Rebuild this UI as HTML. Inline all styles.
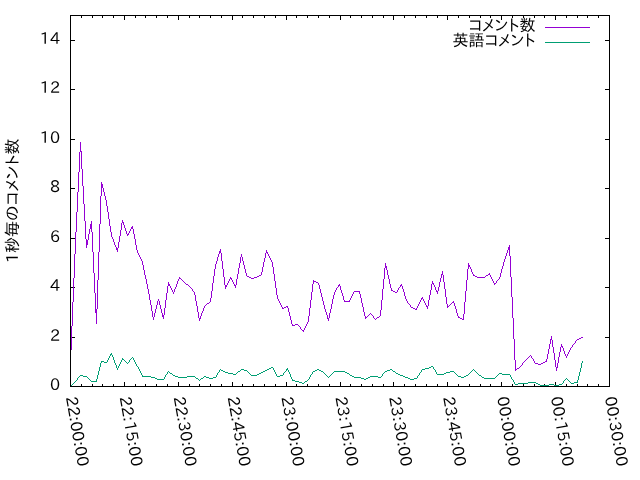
<!DOCTYPE html>
<html lang="ja">
<head>
<meta charset="utf-8">
<title>1秒毎のコメント数</title>
<style>
html,body{margin:0;padding:0;background:#fff;}
body{width:640px;height:480px;overflow:hidden;}
svg{display:block;}
.g{shape-rendering:crispEdges;}
text{fill:#000;}
.n{font-family:"IPAPGothic","Liberation Sans",sans-serif;font-size:16px;}
.j{font-family:"IPAPGothic","Liberation Sans","IPAGothic","Noto Sans CJK JP",sans-serif;font-size:16px;}
</style>
</head>
<body>
<svg width="640" height="480" viewBox="0 0 640 480">
<rect width="640" height="480" fill="#fff"/>
<g class="g">
<path d="M70.5 386.5h4.5M609.5 386.5h-4.5M70.5 337.5h4.5M609.5 337.5h-4.5M70.5 287.5h4.5M609.5 287.5h-4.5M70.5 238.5h4.5M609.5 238.5h-4.5M70.5 188.5h4.5M609.5 188.5h-4.5M70.5 139.5h4.5M609.5 139.5h-4.5M70.5 89.5h4.5M609.5 89.5h-4.5M70.5 40.5h4.5M609.5 40.5h-4.5M70.5 386.5v-4.5M70.5 15.5v4.5M81.5 386.5v-2.5M81.5 15.5v2.5M92.5 386.5v-2.5M92.5 15.5v2.5M102.5 386.5v-2.5M102.5 15.5v2.5M113.5 386.5v-2.5M113.5 15.5v2.5M124.5 386.5v-4.5M124.5 15.5v4.5M135.5 386.5v-2.5M135.5 15.5v2.5M145.5 386.5v-2.5M145.5 15.5v2.5M156.5 386.5v-2.5M156.5 15.5v2.5M167.5 386.5v-2.5M167.5 15.5v2.5M178.5 386.5v-4.5M178.5 15.5v4.5M189.5 386.5v-2.5M189.5 15.5v2.5M199.5 386.5v-2.5M199.5 15.5v2.5M210.5 386.5v-2.5M210.5 15.5v2.5M221.5 386.5v-2.5M221.5 15.5v2.5M232.5 386.5v-4.5M232.5 15.5v4.5M242.5 386.5v-2.5M242.5 15.5v2.5M253.5 386.5v-2.5M253.5 15.5v2.5M264.5 386.5v-2.5M264.5 15.5v2.5M275.5 386.5v-2.5M275.5 15.5v2.5M286.5 386.5v-4.5M286.5 15.5v4.5M296.5 386.5v-2.5M296.5 15.5v2.5M307.5 386.5v-2.5M307.5 15.5v2.5M318.5 386.5v-2.5M318.5 15.5v2.5M329.5 386.5v-2.5M329.5 15.5v2.5M340.5 386.5v-4.5M340.5 15.5v4.5M350.5 386.5v-2.5M350.5 15.5v2.5M361.5 386.5v-2.5M361.5 15.5v2.5M372.5 386.5v-2.5M372.5 15.5v2.5M383.5 386.5v-2.5M383.5 15.5v2.5M393.5 386.5v-4.5M393.5 15.5v4.5M404.5 386.5v-2.5M404.5 15.5v2.5M415.5 386.5v-2.5M415.5 15.5v2.5M426.5 386.5v-2.5M426.5 15.5v2.5M437.5 386.5v-2.5M437.5 15.5v2.5M447.5 386.5v-4.5M447.5 15.5v4.5M458.5 386.5v-2.5M458.5 15.5v2.5M469.5 386.5v-2.5M469.5 15.5v2.5M480.5 386.5v-2.5M480.5 15.5v2.5M490.5 386.5v-2.5M490.5 15.5v2.5M501.5 386.5v-4.5M501.5 15.5v4.5M512.5 386.5v-2.5M512.5 15.5v2.5M523.5 386.5v-2.5M523.5 15.5v2.5M534.5 386.5v-2.5M534.5 15.5v2.5M544.5 386.5v-2.5M544.5 15.5v2.5M555.5 386.5v-4.5M555.5 15.5v4.5M566.5 386.5v-2.5M566.5 15.5v2.5M577.5 386.5v-2.5M577.5 15.5v2.5M587.5 386.5v-2.5M587.5 15.5v2.5M598.5 386.5v-2.5M598.5 15.5v2.5M609.5 386.5v-4.5M609.5 15.5v4.5" stroke="#000" stroke-width="1" fill="none"/>
<path d="M75.98438 242.5L70.98438 362.5H69.98438L74.98438 242.5ZM80.98438 142.5L75.98438 242.5H74.98438L79.98438 142.5ZM81.01562 142.5L87.01562 247.5H86.01562L80.01562 142.5ZM91.98438 221.5L86.98438 247.5H85.98438L90.98438 221.5ZM92.01562 221.5L97.01562 323.5H96.01562L91.01562 221.5ZM101.98438 182.5L96.98438 323.5H95.98438L100.98438 182.5ZM102.01562 182.5L107.01562 202.5H106.01562L101.01562 182.5ZM107.01562 202.5L112.01562 235.5H111.01562L106.01562 202.5ZM112.01562 235.5L118.01562 251.5H117.01562L111.01562 235.5ZM122.98438 220.5L117.98438 251.5H116.98438L121.98438 220.5ZM123.01562 220.5L128.01562 235.5H127.01562L122.01562 220.5ZM132.98438 226.5L127.98438 235.5H126.98438L131.98438 226.5ZM133.01562 226.5L138.01562 252.5H137.01562L132.01562 226.5ZM138.01562 252.5L143.01562 262.5H142.01562L137.01562 252.5ZM143.01562 262.5L149.01562 291.5H148.01562L142.01562 262.5ZM149.01562 291.5L154.01562 319.5H153.01562L148.01562 291.5ZM158.98438 299.5L153.98438 319.5H152.98438L157.98438 299.5ZM159.01562 299.5L164.01562 318.5H163.01562L158.01562 299.5ZM168.98438 282.5L163.98438 318.5H162.98438L167.98438 282.5ZM169.01562 282.5L174.01562 293.5H173.01562L168.01562 282.5ZM179.98438 277.5L173.98438 293.5H172.98438L178.98438 277.5ZM179.5 277.01562L184.5 282.01562V283.01562L179.5 278.01562ZM184.5 282.01562L189.5 286.01562V287.01562L184.5 283.01562ZM190.01562 286.5L195.01562 292.5H194.01562L189.01562 286.5ZM195.01562 292.5L200.01562 320.5H199.01562L194.01562 292.5ZM204.98438 306.5L199.98438 320.5H198.98438L203.98438 306.5ZM204.5 305.98438L210.5 300.98438V301.98438L204.5 306.98438ZM215.98438 265.5L210.98438 301.5H209.98438L214.98438 265.5ZM220.98438 249.5L215.98438 265.5H214.98438L219.98438 249.5ZM221.01562 249.5L226.01562 288.5H225.01562L220.01562 249.5ZM230.98438 277.5L225.98438 288.5H224.98438L229.98438 277.5ZM231.01562 277.5L236.01562 287.5H235.01562L230.01562 277.5ZM241.98438 254.5L235.98438 287.5H234.98438L240.98438 254.5ZM242.01562 254.5L247.01562 275.5H246.01562L241.01562 254.5ZM246.5 275.01562L251.5 278.01562V279.01562L246.5 276.01562ZM251.5 277.98438L256.5 276.98438V277.98438L251.5 278.98438ZM256.5 276.98438L261.5 273.98438V274.98438L256.5 277.98438ZM266.98438 250.5L261.98438 274.5H260.98438L265.98438 250.5ZM267.01562 250.5L273.01562 263.5H272.01562L266.01562 250.5ZM273.01562 263.5L278.01562 298.5H277.01562L272.01562 263.5ZM278.01562 298.5L283.01562 308.5H282.01562L277.01562 298.5ZM282.5 307.98438L287.5 305.98438V306.98438L282.5 308.98438ZM288.01562 306.5L293.01562 325.5H292.01562L287.01562 306.5ZM292.5 324.98438L297.5 323.98438V324.98438L292.5 325.98438ZM298.01562 324.5L304.01562 331.5H303.01562L297.01562 324.5ZM308.98438 320.5L303.98438 331.5H302.98438L307.98438 320.5ZM313.98438 280.5L308.98438 320.5H307.98438L312.98438 280.5ZM313.5 280.01562L318.5 283.01562V284.01562L313.5 281.01562ZM319.01562 283.5L324.01562 303.5H323.01562L318.01562 283.5ZM324.01562 303.5L329.01562 320.5H328.01562L323.01562 303.5ZM334.98438 292.5L328.98438 320.5H327.98438L333.98438 292.5ZM339.98438 284.5L334.98438 292.5H333.98438L338.98438 284.5ZM340.01562 284.5L345.01562 301.5H344.01562L339.01562 284.5ZM344.5 301L349.5 301V302L344.5 302ZM354.98438 291.5L349.98438 301.5H348.98438L353.98438 291.5ZM354.5 291L359.5 291V292L354.5 292ZM360.01562 291.5L366.01562 318.5H365.01562L359.01562 291.5ZM365.5 317.98438L370.5 312.98438V313.98438L365.5 318.98438ZM371.01562 313.5L376.01562 319.5H375.01562L370.01562 313.5ZM375.5 318.98438L380.5 314.98438V315.98438L375.5 319.98438ZM385.98438 263.5L380.98438 315.5H379.98438L384.98438 263.5ZM386.01562 263.5L392.01562 290.5H391.01562L385.01562 263.5ZM391.5 290.01562L396.5 292.01562V293.01562L391.5 291.01562ZM401.98438 284.5L396.98438 292.5H395.98438L400.98438 284.5ZM402.01562 284.5L407.01562 300.5H406.01562L401.01562 284.5ZM407.01562 300.5L412.01562 307.5H411.01562L406.01562 300.5ZM411.5 307.01562L416.5 309.01562V310.01562L411.5 308.01562ZM422.98438 297.5L416.98438 309.5H415.98438L421.98438 297.5ZM423.01562 297.5L428.01562 308.5H427.01562L422.01562 297.5ZM432.98438 281.5L427.98438 308.5H426.98438L431.98438 281.5ZM433.01562 281.5L438.01562 293.5H437.01562L432.01562 281.5ZM442.98438 271.5L437.98438 293.5H436.98438L441.98438 271.5ZM443.01562 271.5L448.01562 307.5H447.01562L442.01562 271.5ZM447.5 306.98438L453.5 300.98438V301.98438L447.5 307.98438ZM454.01562 301.5L459.01562 317.5H458.01562L453.01562 301.5ZM458.5 317.01562L463.5 319.01562V320.01562L458.5 318.01562ZM468.98438 263.5L463.98438 319.5H462.98438L467.98438 263.5ZM469.01562 263.5L474.01562 275.5H473.01562L468.01562 263.5ZM473.5 275.01562L478.5 277.01562V278.01562L473.5 276.01562ZM478.5 277L484.5 277V278L478.5 278ZM484.5 276.98438L489.5 272.98438V273.98438L484.5 277.98438ZM490.01562 273.5L495.01562 284.5H494.01562L489.01562 273.5ZM499.98438 278.5L494.98438 284.5H493.98438L498.98438 278.5ZM504.98438 260.5L499.98438 278.5H498.98438L503.98438 260.5ZM509.98438 245.5L504.98438 260.5H503.98438L508.98438 245.5ZM510.01562 245.5L516.01562 370.5H515.01562L509.01562 245.5ZM515.5 369.98438L520.5 365.98438V366.98438L515.5 370.98438ZM525.98438 360.5L520.98438 366.5H519.98438L524.98438 360.5ZM525.5 359.98438L530.5 354.98438V355.98438L525.5 360.98438ZM531.01562 355.5L536.01562 363.5H535.01562L530.01562 355.5ZM535.5 363.01562L540.5 364.01562V365.01562L535.5 364.01562ZM540.5 363.98438L546.5 360.98438V361.98438L540.5 364.98438ZM551.98438 336.5L546.98438 361.5H545.98438L550.98438 336.5ZM552.01562 336.5L557.01562 370.5H556.01562L551.01562 336.5ZM561.98438 344.5L556.98438 370.5H555.98438L560.98438 344.5ZM562.01562 344.5L567.01562 357.5H566.01562L561.01562 344.5ZM571.98438 347.5L566.98438 357.5H565.98438L570.98438 347.5ZM577.98438 339.5L571.98438 347.5H570.98438L576.98438 339.5ZM577.5 338.98438L582.5 336.98438V337.98438L577.5 339.98438ZM70 362h1v1h-1ZM75 242h1v1h-1ZM80 142h1v1h-1ZM86 247h1v1h-1ZM91 221h1v1h-1ZM96 323h1v1h-1ZM101 182h1v1h-1ZM106 202h1v1h-1ZM111 235h1v1h-1ZM117 251h1v1h-1ZM122 220h1v1h-1ZM127 235h1v1h-1ZM132 226h1v1h-1ZM137 252h1v1h-1ZM142 262h1v1h-1ZM148 291h1v1h-1ZM153 319h1v1h-1ZM158 299h1v1h-1ZM163 318h1v1h-1ZM168 282h1v1h-1ZM173 293h1v1h-1ZM179 277h1v1h-1ZM184 282h1v1h-1ZM189 286h1v1h-1ZM194 292h1v1h-1ZM199 320h1v1h-1ZM204 306h1v1h-1ZM210 301h1v1h-1ZM215 265h1v1h-1ZM220 249h1v1h-1ZM225 288h1v1h-1ZM230 277h1v1h-1ZM235 287h1v1h-1ZM241 254h1v1h-1ZM246 275h1v1h-1ZM251 278h1v1h-1ZM256 277h1v1h-1ZM261 274h1v1h-1ZM266 250h1v1h-1ZM272 263h1v1h-1ZM277 298h1v1h-1ZM282 308h1v1h-1ZM287 306h1v1h-1ZM292 325h1v1h-1ZM297 324h1v1h-1ZM303 331h1v1h-1ZM308 320h1v1h-1ZM313 280h1v1h-1ZM318 283h1v1h-1ZM323 303h1v1h-1ZM328 320h1v1h-1ZM334 292h1v1h-1ZM339 284h1v1h-1ZM344 301h1v1h-1ZM349 301h1v1h-1ZM354 291h1v1h-1ZM359 291h1v1h-1ZM365 318h1v1h-1ZM370 313h1v1h-1ZM375 319h1v1h-1ZM380 315h1v1h-1ZM385 263h1v1h-1ZM391 290h1v1h-1ZM396 292h1v1h-1ZM401 284h1v1h-1ZM406 300h1v1h-1ZM411 307h1v1h-1ZM416 309h1v1h-1ZM422 297h1v1h-1ZM427 308h1v1h-1ZM432 281h1v1h-1ZM437 293h1v1h-1ZM442 271h1v1h-1ZM447 307h1v1h-1ZM453 301h1v1h-1ZM458 317h1v1h-1ZM463 319h1v1h-1ZM468 263h1v1h-1ZM473 275h1v1h-1ZM478 277h1v1h-1ZM484 277h1v1h-1ZM489 273h1v1h-1ZM494 284h1v1h-1ZM499 278h1v1h-1ZM504 260h1v1h-1ZM509 245h1v1h-1ZM515 370h1v1h-1ZM520 366h1v1h-1ZM525 360h1v1h-1ZM530 355h1v1h-1ZM535 363h1v1h-1ZM540 364h1v1h-1ZM546 361h1v1h-1ZM551 336h1v1h-1ZM556 370h1v1h-1ZM561 344h1v1h-1ZM566 357h1v1h-1ZM571 347h1v1h-1ZM577 339h1v1h-1ZM582 337h1v1h-1Z" fill="#9400d3" stroke="none"/>
<path d="M545 27.5H590" stroke="#9400d3" stroke-width="1" fill="none"/>
<path d="M70.5 385.98438L75.5 380.98438V381.98438L70.5 386.98438ZM80.98438 375.5L75.98438 381.5H74.98438L79.98438 375.5ZM80.5 375.01562L86.5 376.01562V377.01562L80.5 376.01562ZM86.5 376.01562L91.5 381.01562V382.01562L86.5 377.01562ZM91.5 381L96.5 381V382L91.5 382ZM101.98438 361.5L96.98438 381.5H95.98438L100.98438 361.5ZM101.5 361.01562L106.5 362.01562V363.01562L101.5 362.01562ZM111.98438 353.5L106.98438 362.5H105.98438L110.98438 353.5ZM112.01562 353.5L118.01562 369.5H117.01562L111.01562 353.5ZM122.98438 358.5L117.98438 369.5H116.98438L121.98438 358.5ZM122.5 358.01562L127.5 363.01562V364.01562L122.5 359.01562ZM132.98438 357.5L127.98438 363.5H126.98438L131.98438 357.5ZM133.01562 357.5L138.01562 366.5H137.01562L132.01562 357.5ZM138.01562 366.5L143.01562 376.5H142.01562L137.01562 366.5ZM142.5 376L148.5 376V377L142.5 377ZM148.5 376.01562L153.5 377.01562V378.01562L148.5 377.01562ZM153.5 377.01562L158.5 379.01562V380.01562L153.5 378.01562ZM158.5 379L163.5 379V380L158.5 380ZM168.98438 371.5L163.98438 379.5H162.98438L167.98438 371.5ZM168.5 371.01562L173.5 375.01562V376.01562L168.5 372.01562ZM173.5 375.01562L179.5 377.01562V378.01562L173.5 376.01562ZM179.5 377L184.5 377V378L179.5 378ZM184.5 376.98438L189.5 375.98438V376.98438L184.5 377.98438ZM189.5 376L194.5 376V377L189.5 377ZM194.5 376.01562L199.5 380.01562V381.01562L194.5 377.01562ZM199.5 379.98438L204.5 375.98438V376.98438L199.5 380.98438ZM204.5 376.01562L210.5 378.01562V379.01562L204.5 377.01562ZM210.5 377.98438L215.5 376.98438V377.98438L210.5 378.98438ZM220.98438 369.5L215.98438 377.5H214.98438L219.98438 369.5ZM220.5 369.01562L225.5 372.01562V373.01562L220.5 370.01562ZM225.5 372.01562L230.5 373.01562V374.01562L225.5 373.01562ZM230.5 373.01562L235.5 374.01562V375.01562L230.5 374.01562ZM235.5 373.98438L241.5 368.98438V369.98438L235.5 374.98438ZM241.5 369.01562L246.5 370.01562V371.01562L241.5 370.01562ZM246.5 370.01562L251.5 375.01562V376.01562L246.5 371.01562ZM251.5 375L256.5 375V376L251.5 376ZM256.5 374.98438L261.5 371.98438V372.98438L256.5 375.98438ZM261.5 371.98438L266.5 369.98438V370.98438L261.5 372.98438ZM266.5 369.98438L272.5 366.98438V367.98438L266.5 370.98438ZM273.01562 367.5L278.01562 376.5H277.01562L272.01562 367.5ZM277.5 375.98438L282.5 374.98438V375.98438L277.5 376.98438ZM287.98438 368.5L282.98438 375.5H281.98438L286.98438 368.5ZM288.01562 368.5L293.01562 380.5H292.01562L287.01562 368.5ZM292.5 380.01562L297.5 381.01562V382.01562L292.5 381.01562ZM297.5 381.01562L303.5 383.01562V384.01562L297.5 382.01562ZM303.5 382.98438L308.5 378.98438V379.98438L303.5 383.98438ZM313.98438 371.5L308.98438 379.5H307.98438L312.98438 371.5ZM313.5 370.98438L318.5 368.98438V369.98438L313.5 371.98438ZM318.5 369.01562L323.5 372.01562V373.01562L318.5 370.01562ZM323.5 372.01562L328.5 377.01562V378.01562L323.5 373.01562ZM328.5 376.98438L334.5 370.98438V371.98438L328.5 377.98438ZM334.5 371L339.5 371V372L334.5 372ZM339.5 371L344.5 371V372L339.5 372ZM344.5 371.01562L349.5 374.01562V375.01562L344.5 372.01562ZM349.5 374.01562L354.5 377.01562V378.01562L349.5 375.01562ZM354.5 377L359.5 377V378L354.5 378ZM359.5 377.01562L365.5 379.01562V380.01562L359.5 378.01562ZM365.5 378.98438L370.5 375.98438V376.98438L365.5 379.98438ZM370.5 376L375.5 376V377L370.5 377ZM375.5 376.01562L380.5 377.01562V378.01562L375.5 377.01562ZM385.98438 371.5L380.98438 377.5H379.98438L384.98438 371.5ZM385.5 370.98438L391.5 368.98438V369.98438L385.5 371.98438ZM391.5 369.01562L396.5 373.01562V374.01562L391.5 370.01562ZM396.5 373.01562L401.5 375.01562V376.01562L396.5 374.01562ZM401.5 375.01562L406.5 377.01562V378.01562L401.5 376.01562ZM406.5 377.01562L411.5 379.01562V380.01562L406.5 378.01562ZM411.5 378.98438L416.5 377.98438V378.98438L411.5 379.98438ZM422.98438 369.5L416.98438 378.5H415.98438L421.98438 369.5ZM422.5 368.98438L427.5 367.98438V368.98438L422.5 369.98438ZM427.5 367.98438L432.5 365.98438V366.98438L427.5 368.98438ZM433.01562 366.5L438.01562 374.5H437.01562L432.01562 366.5ZM437.5 374L442.5 374V375L437.5 375ZM442.5 373.98438L447.5 371.98438V372.98438L442.5 374.98438ZM447.5 371.98438L453.5 370.98438V371.98438L447.5 372.98438ZM453.5 371.01562L458.5 376.01562V377.01562L453.5 372.01562ZM458.5 376.01562L463.5 377.01562V378.01562L458.5 377.01562ZM463.5 376.98438L468.5 373.98438V374.98438L463.5 377.98438ZM468.5 373.98438L473.5 368.98438V369.98438L468.5 374.98438ZM473.5 369.01562L478.5 374.01562V375.01562L473.5 370.01562ZM478.5 374.01562L484.5 378.01562V379.01562L478.5 375.01562ZM484.5 378L489.5 378V379L484.5 379ZM489.5 378L494.5 378V379L489.5 379ZM494.5 377.98438L499.5 372.98438V373.98438L494.5 378.98438ZM499.5 373.01562L504.5 374.01562V375.01562L499.5 374.01562ZM504.5 374L509.5 374V375L504.5 375ZM510.01562 374.5L516.01562 384.5H515.01562L509.01562 374.5ZM515.5 383.98438L520.5 382.98438V383.98438L515.5 384.98438ZM520.5 383L525.5 383V384L520.5 384ZM525.5 382.98438L530.5 381.98438V382.98438L525.5 383.98438ZM530.5 382L535.5 382V383L530.5 383ZM535.5 382.01562L540.5 385.01562V386.01562L535.5 383.01562ZM540.5 385L546.5 385V386L540.5 386ZM546.5 384.98438L551.5 383.98438V384.98438L546.5 385.98438ZM551.5 384.01562L556.5 385.01562V386.01562L551.5 385.01562ZM556.5 384.98438L561.5 383.98438V384.98438L556.5 385.98438ZM566.98438 378.5L561.98438 384.5H560.98438L565.98438 378.5ZM566.5 378.01562L571.5 383.01562V384.01562L566.5 379.01562ZM571.5 382.98438L577.5 381.98438V382.98438L571.5 383.98438ZM582.98438 361.5L577.98438 382.5H576.98438L581.98438 361.5ZM70 386h1v1h-1ZM75 381h1v1h-1ZM80 375h1v1h-1ZM86 376h1v1h-1ZM91 381h1v1h-1ZM96 381h1v1h-1ZM101 361h1v1h-1ZM106 362h1v1h-1ZM111 353h1v1h-1ZM117 369h1v1h-1ZM122 358h1v1h-1ZM127 363h1v1h-1ZM132 357h1v1h-1ZM137 366h1v1h-1ZM142 376h1v1h-1ZM148 376h1v1h-1ZM153 377h1v1h-1ZM158 379h1v1h-1ZM163 379h1v1h-1ZM168 371h1v1h-1ZM173 375h1v1h-1ZM179 377h1v1h-1ZM184 377h1v1h-1ZM189 376h1v1h-1ZM194 376h1v1h-1ZM199 380h1v1h-1ZM204 376h1v1h-1ZM210 378h1v1h-1ZM215 377h1v1h-1ZM220 369h1v1h-1ZM225 372h1v1h-1ZM230 373h1v1h-1ZM235 374h1v1h-1ZM241 369h1v1h-1ZM246 370h1v1h-1ZM251 375h1v1h-1ZM256 375h1v1h-1ZM261 372h1v1h-1ZM266 370h1v1h-1ZM272 367h1v1h-1ZM277 376h1v1h-1ZM282 375h1v1h-1ZM287 368h1v1h-1ZM292 380h1v1h-1ZM297 381h1v1h-1ZM303 383h1v1h-1ZM308 379h1v1h-1ZM313 371h1v1h-1ZM318 369h1v1h-1ZM323 372h1v1h-1ZM328 377h1v1h-1ZM334 371h1v1h-1ZM339 371h1v1h-1ZM344 371h1v1h-1ZM349 374h1v1h-1ZM354 377h1v1h-1ZM359 377h1v1h-1ZM365 379h1v1h-1ZM370 376h1v1h-1ZM375 376h1v1h-1ZM380 377h1v1h-1ZM385 371h1v1h-1ZM391 369h1v1h-1ZM396 373h1v1h-1ZM401 375h1v1h-1ZM406 377h1v1h-1ZM411 379h1v1h-1ZM416 378h1v1h-1ZM422 369h1v1h-1ZM427 368h1v1h-1ZM432 366h1v1h-1ZM437 374h1v1h-1ZM442 374h1v1h-1ZM447 372h1v1h-1ZM453 371h1v1h-1ZM458 376h1v1h-1ZM463 377h1v1h-1ZM468 374h1v1h-1ZM473 369h1v1h-1ZM478 374h1v1h-1ZM484 378h1v1h-1ZM489 378h1v1h-1ZM494 378h1v1h-1ZM499 373h1v1h-1ZM504 374h1v1h-1ZM509 374h1v1h-1ZM515 384h1v1h-1ZM520 383h1v1h-1ZM525 383h1v1h-1ZM530 382h1v1h-1ZM535 382h1v1h-1ZM540 385h1v1h-1ZM546 385h1v1h-1ZM551 384h1v1h-1ZM556 385h1v1h-1ZM561 384h1v1h-1ZM566 378h1v1h-1ZM571 383h1v1h-1ZM577 382h1v1h-1ZM582 361h1v1h-1Z" fill="#009e73" stroke="none"/>
<path d="M545 42.5H590" stroke="#009e73" stroke-width="1" fill="none"/>
<rect x="70.5" y="15.5" width="539.0" height="371.0" fill="none" stroke="#000" stroke-width="1"/>
</g>
<g>
<text class="n" x="60" y="389.7" text-anchor="end">0</text>
<text class="n" x="60" y="340.7" text-anchor="end">2</text>
<text class="n" x="60" y="290.7" text-anchor="end">4</text>
<text class="n" x="60" y="241.7" text-anchor="end">6</text>
<text class="n" x="60" y="191.7" text-anchor="end">8</text>
<text class="n" x="60" y="142.7" text-anchor="end" textLength="20.16" lengthAdjust="spacing">10</text>
<text class="n" x="60" y="92.7" text-anchor="end" textLength="20.16" lengthAdjust="spacing">12</text>
<text class="n" x="60" y="43.7" text-anchor="end" textLength="20.16" lengthAdjust="spacing">14</text>
<text class="n" transform="translate(65.7,397.5) rotate(80)" textLength="70.7" lengthAdjust="spacing">22:00:00</text>
<text class="n" transform="translate(119.6,397.5) rotate(80)" textLength="70.7" lengthAdjust="spacing">22:15:00</text>
<text class="n" transform="translate(173.5,397.5) rotate(80)" textLength="70.7" lengthAdjust="spacing">22:30:00</text>
<text class="n" transform="translate(227.4,397.5) rotate(80)" textLength="70.7" lengthAdjust="spacing">22:45:00</text>
<text class="n" transform="translate(281.3,397.5) rotate(80)" textLength="70.7" lengthAdjust="spacing">23:00:00</text>
<text class="n" transform="translate(335.2,397.5) rotate(80)" textLength="70.7" lengthAdjust="spacing">23:15:00</text>
<text class="n" transform="translate(389.1,397.5) rotate(80)" textLength="70.7" lengthAdjust="spacing">23:30:00</text>
<text class="n" transform="translate(443.0,397.5) rotate(80)" textLength="70.7" lengthAdjust="spacing">23:45:00</text>
<text class="n" transform="translate(496.9,397.5) rotate(80)" textLength="70.7" lengthAdjust="spacing">00:00:00</text>
<text class="n" transform="translate(550.8,397.5) rotate(80)" textLength="70.7" lengthAdjust="spacing">00:15:00</text>
<text class="n" transform="translate(604.7,397.5) rotate(80)" textLength="70.7" lengthAdjust="spacing">00:30:00</text>
<text class="j" x="535.5" y="30.5" text-anchor="end" textLength="67.05" lengthAdjust="spacing">コメント数</text>
<text class="j" x="535.5" y="45.5" text-anchor="end" textLength="83.05" lengthAdjust="spacing">英語コメント</text>
<text class="j" transform="translate(17.5,200.7) rotate(-90)" text-anchor="middle" textLength="124.64" lengthAdjust="spacing">1秒毎のコメント数</text>
</g>
</svg>
</body>
</html>
